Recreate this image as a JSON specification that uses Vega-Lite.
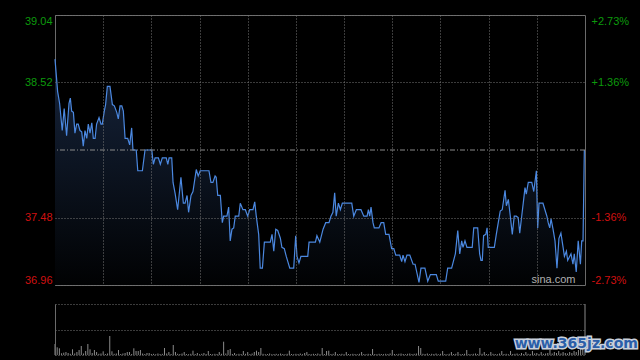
{
"$schema":"https://vega.github.io/schema/vega-lite/v6.json",
"background":"#000000",
"padding":{"left":0,"top":14,"right":6,"bottom":5},
"config":{"font":"Liberation Sans","view":{"stroke":"#6a6a6a"}},
"datasets":{
"price":[{"t":0,"p":38.70},{"t":1.2,"p":38.45},{"t":2.1,"p":38.36},{"t":3.3,"p":38.15},{"t":4.2,"p":38.32},{"t":5.3,"p":38.11},{"t":6.4,"p":38.36},{"t":7.0,"p":38.40},{"t":7.6,"p":38.30},{"t":8.4,"p":38.29},{"t":9.1,"p":38.13},{"t":9.9,"p":38.20},{"t":10.6,"p":38.20},{"t":11.4,"p":38.15},{"t":12.2,"p":38.14},{"t":12.9,"p":38.03},{"t":13.7,"p":38.15},{"t":14.5,"p":38.09},{"t":15.2,"p":38.20},{"t":16.0,"p":38.13},{"t":16.8,"p":38.21},{"t":17.5,"p":38.09},{"t":18.3,"p":38.09},{"t":19.0,"p":38.20},{"t":20.1,"p":38.25},{"t":21.0,"p":38.20},{"t":21.6,"p":38.20},{"t":22.5,"p":38.30},{"t":23.1,"p":38.35},{"t":23.9,"p":38.49},{"t":25.1,"p":38.49},{"t":26.2,"p":38.35},{"t":27.1,"p":38.34},{"t":28.2,"p":38.29},{"t":28.9,"p":38.24},{"t":29.7,"p":38.34},{"t":30.5,"p":38.34},{"t":31.2,"p":38.30},{"t":32.0,"p":38.09},{"t":33.2,"p":38.09},{"t":34.1,"p":38.04},{"t":35.0,"p":38.17},{"t":35.6,"p":38.00},{"t":37.1,"p":38.00},{"t":37.8,"p":37.84},{"t":39.9,"p":37.84},{"t":41.1,"p":38.00},{"t":44.2,"p":38.00},{"t":44.9,"p":37.89},{"t":45.7,"p":37.94},{"t":47.2,"p":37.94},{"t":48.1,"p":37.89},{"t":49.0,"p":37.94},{"t":50.8,"p":37.94},{"t":51.5,"p":37.89},{"t":52.1,"p":37.94},{"t":53.3,"p":37.94},{"t":53.9,"p":37.75},{"t":54.8,"p":37.67},{"t":56.0,"p":37.54},{"t":57.5,"p":37.79},{"t":58.6,"p":37.59},{"t":59.4,"p":37.59},{"t":60.3,"p":37.65},{"t":61.0,"p":37.52},{"t":62.1,"p":37.65},{"t":63.0,"p":37.68},{"t":64.5,"p":37.85},{"t":65.4,"p":37.80},{"t":66.3,"p":37.84},{"t":70.3,"p":37.84},{"t":71.2,"p":37.75},{"t":72.1,"p":37.75},{"t":73.1,"p":37.80},{"t":73.6,"p":37.79},{"t":74.3,"p":37.65},{"t":75.5,"p":37.65},{"t":76.4,"p":37.44},{"t":77.0,"p":37.49},{"t":78.5,"p":37.49},{"t":79.3,"p":37.56},{"t":80.0,"p":37.30},{"t":80.8,"p":37.39},{"t":81.6,"p":37.40},{"t":82.3,"p":37.49},{"t":83.9,"p":37.49},{"t":84.6,"p":37.59},{"t":85.8,"p":37.54},{"t":86.9,"p":37.54},{"t":88.0,"p":37.49},{"t":88.9,"p":37.54},{"t":90.4,"p":37.54},{"t":91.2,"p":37.60},{"t":91.9,"p":37.49},{"t":93.0,"p":37.35},{"t":93.7,"p":37.09},{"t":94.7,"p":37.09},{"t":95.6,"p":37.29},{"t":98.3,"p":37.29},{"t":99.1,"p":37.35},{"t":99.9,"p":37.22},{"t":100.8,"p":37.39},{"t":101.7,"p":37.38},{"t":102.9,"p":37.32},{"t":103.6,"p":37.25},{"t":104.7,"p":37.24},{"t":105.6,"p":37.18},{"t":107.2,"p":37.09},{"t":109.0,"p":37.09},{"t":109.9,"p":37.34},{"t":110.5,"p":37.18},{"t":111.4,"p":37.13},{"t":112.3,"p":37.18},{"t":115.4,"p":37.18},{"t":116.0,"p":37.29},{"t":118.9,"p":37.29},{"t":119.6,"p":37.34},{"t":120.9,"p":37.29},{"t":122.4,"p":37.39},{"t":123.6,"p":37.44},{"t":125.1,"p":37.44},{"t":126.0,"p":37.49},{"t":126.9,"p":37.52},{"t":127.7,"p":37.67},{"t":128.4,"p":37.49},{"t":129.4,"p":37.59},{"t":130.3,"p":37.54},{"t":131.2,"p":37.59},{"t":135.5,"p":37.59},{"t":136.4,"p":37.49},{"t":137.6,"p":37.54},{"t":139.7,"p":37.54},{"t":141.0,"p":37.49},{"t":142.5,"p":37.49},{"t":143.1,"p":37.54},{"t":143.7,"p":37.49},{"t":144.3,"p":37.56},{"t":145.2,"p":37.44},{"t":145.8,"p":37.40},{"t":147.9,"p":37.40},{"t":148.9,"p":37.44},{"t":150.1,"p":37.44},{"t":151.0,"p":37.35},{"t":152.5,"p":37.35},{"t":153.7,"p":37.24},{"t":154.7,"p":37.24},{"t":155.6,"p":37.19},{"t":157.4,"p":37.19},{"t":158.3,"p":37.14},{"t":158.9,"p":37.19},{"t":159.8,"p":37.14},{"t":160.7,"p":37.19},{"t":162.0,"p":37.19},{"t":163.5,"p":37.12},{"t":164.4,"p":37.12},{"t":166.2,"p":36.98},{"t":167.1,"p":37.09},{"t":168.9,"p":37.09},{"t":170.2,"p":36.99},{"t":171.4,"p":37.04},{"t":174.1,"p":37.04},{"t":175.0,"p":36.99},{"t":178.4,"p":36.99},{"t":179.3,"p":37.09},{"t":181.1,"p":37.09},{"t":182.8,"p":37.20},{"t":183.9,"p":37.38},{"t":184.8,"p":37.20},{"t":185.7,"p":37.30},{"t":186.3,"p":37.25},{"t":187.2,"p":37.30},{"t":188.1,"p":37.25},{"t":190.5,"p":37.25},{"t":191.2,"p":37.40},{"t":193.0,"p":37.40},{"t":193.9,"p":37.20},{"t":194.5,"p":37.15},{"t":195.1,"p":37.15},{"t":195.7,"p":37.34},{"t":196.7,"p":37.35},{"t":197.3,"p":37.40},{"t":197.8,"p":37.25},{"t":200.6,"p":37.25},{"t":201.5,"p":37.35},{"t":202.4,"p":37.44},{"t":203.3,"p":37.53},{"t":204.2,"p":37.54},{"t":205.5,"p":37.69},{"t":206.1,"p":37.57},{"t":207.0,"p":37.62},{"t":207.9,"p":37.49},{"t":208.8,"p":37.35},{"t":209.7,"p":37.49},{"t":210.6,"p":37.49},{"t":211.5,"p":37.48},{"t":212.2,"p":37.36},{"t":213.1,"p":37.49},{"t":214.0,"p":37.62},{"t":214.6,"p":37.71},{"t":215.2,"p":37.66},{"t":216.1,"p":37.75},{"t":217.7,"p":37.75},{"t":218.6,"p":37.68},{"t":219.8,"p":37.84},{"t":220.4,"p":37.40},{"t":221.0,"p":37.59},{"t":222.8,"p":37.59},{"t":223.7,"p":37.54},{"t":224.6,"p":37.49},{"t":225.2,"p":37.44},{"t":225.9,"p":37.40},{"t":226.5,"p":37.47},{"t":227.4,"p":37.39},{"t":228.3,"p":37.30},{"t":229.2,"p":37.09},{"t":230.1,"p":37.32},{"t":231.0,"p":37.36},{"t":232.0,"p":37.25},{"t":232.6,"p":37.18},{"t":233.5,"p":37.22},{"t":234.1,"p":37.15},{"t":234.7,"p":37.17},{"t":235.6,"p":37.20},{"t":236.5,"p":37.12},{"t":237.1,"p":37.20},{"t":238.0,"p":37.06},{"t":238.9,"p":37.30},{"t":239.9,"p":37.12},{"t":240.5,"p":37.30},{"t":241.1,"p":37.30},{"t":241.7,"p":38.00}],
"vol":[{"t":0,"v":1100},{"t":1,"v":770},{"t":2,"v":670},{"t":3,"v":170},{"t":4,"v":230},{"t":5,"v":300},{"t":6,"v":200},{"t":7,"v":120},{"t":8,"v":570},{"t":9,"v":150},{"t":10,"v":300},{"t":11,"v":500},{"t":12,"v":900},{"t":13,"v":150},{"t":14,"v":400},{"t":15,"v":1100},{"t":16,"v":570},{"t":17,"v":200},{"t":18,"v":500},{"t":19,"v":300},{"t":20,"v":120},{"t":21,"v":150},{"t":22,"v":370},{"t":23,"v":100},{"t":24,"v":150},{"t":25,"v":1900},{"t":26,"v":370},{"t":27,"v":120},{"t":28,"v":150},{"t":29,"v":500},{"t":30,"v":100},{"t":31,"v":150},{"t":32,"v":200},{"t":33,"v":300},{"t":34,"v":300},{"t":35,"v":100},{"t":36,"v":670},{"t":37,"v":400},{"t":38,"v":400},{"t":39,"v":500},{"t":40,"v":150},{"t":41,"v":100},{"t":42,"v":200},{"t":43,"v":200},{"t":44,"v":100},{"t":45,"v":120},{"t":46,"v":80},{"t":47,"v":150},{"t":48,"v":100},{"t":49,"v":120},{"t":50,"v":700},{"t":51,"v":150},{"t":52,"v":300},{"t":53,"v":100},{"t":54,"v":1000},{"t":55,"v":300},{"t":56,"v":120},{"t":57,"v":100},{"t":58,"v":150},{"t":59,"v":300},{"t":60,"v":100},{"t":61,"v":80},{"t":62,"v":120},{"t":63,"v":430},{"t":64,"v":100},{"t":65,"v":200},{"t":66,"v":80},{"t":67,"v":120},{"t":68,"v":200},{"t":69,"v":100},{"t":70,"v":400},{"t":71,"v":100},{"t":72,"v":80},{"t":73,"v":120},{"t":74,"v":100},{"t":75,"v":300},{"t":76,"v":120},{"t":77,"v":1330},{"t":78,"v":150},{"t":79,"v":500},{"t":80,"v":600},{"t":81,"v":100},{"t":82,"v":200},{"t":83,"v":80},{"t":84,"v":120},{"t":85,"v":100},{"t":86,"v":400},{"t":87,"v":120},{"t":88,"v":300},{"t":89,"v":100},{"t":90,"v":150},{"t":91,"v":300},{"t":92,"v":430},{"t":93,"v":300},{"t":94,"v":700},{"t":95,"v":120},{"t":96,"v":80},{"t":97,"v":100},{"t":98,"v":150},{"t":99,"v":80},{"t":100,"v":100},{"t":101,"v":120},{"t":102,"v":80},{"t":103,"v":150},{"t":104,"v":100},{"t":105,"v":80},{"t":106,"v":120},{"t":107,"v":430},{"t":108,"v":100},{"t":109,"v":80},{"t":110,"v":120},{"t":111,"v":100},{"t":112,"v":150},{"t":113,"v":80},{"t":114,"v":200},{"t":115,"v":300},{"t":116,"v":100},{"t":117,"v":80},{"t":118,"v":120},{"t":119,"v":100},{"t":120,"v":150},{"t":121,"v":80},{"t":122,"v":700},{"t":123,"v":100},{"t":124,"v":400},{"t":125,"v":430},{"t":126,"v":100},{"t":127,"v":120},{"t":128,"v":300},{"t":129,"v":80},{"t":130,"v":100},{"t":131,"v":120},{"t":132,"v":80},{"t":133,"v":300},{"t":134,"v":100},{"t":135,"v":80},{"t":136,"v":120},{"t":137,"v":100},{"t":138,"v":80},{"t":139,"v":120},{"t":140,"v":300},{"t":141,"v":100},{"t":142,"v":80},{"t":143,"v":120},{"t":144,"v":100},{"t":145,"v":600},{"t":146,"v":100},{"t":147,"v":80},{"t":148,"v":120},{"t":149,"v":100},{"t":150,"v":80},{"t":151,"v":120},{"t":152,"v":100},{"t":153,"v":150},{"t":154,"v":500},{"t":155,"v":100},{"t":156,"v":80},{"t":157,"v":120},{"t":158,"v":150},{"t":159,"v":100},{"t":160,"v":80},{"t":161,"v":120},{"t":162,"v":150},{"t":163,"v":100},{"t":164,"v":120},{"t":165,"v":150},{"t":166,"v":900},{"t":167,"v":700},{"t":168,"v":120},{"t":169,"v":100},{"t":170,"v":150},{"t":171,"v":80},{"t":172,"v":120},{"t":173,"v":100},{"t":174,"v":150},{"t":175,"v":80},{"t":176,"v":120},{"t":177,"v":400},{"t":178,"v":100},{"t":179,"v":80},{"t":180,"v":120},{"t":181,"v":300},{"t":182,"v":100},{"t":183,"v":120},{"t":184,"v":300},{"t":185,"v":80},{"t":186,"v":100},{"t":187,"v":120},{"t":188,"v":500},{"t":189,"v":100},{"t":190,"v":80},{"t":191,"v":120},{"t":192,"v":150},{"t":193,"v":100},{"t":194,"v":700},{"t":195,"v":120},{"t":196,"v":300},{"t":197,"v":100},{"t":198,"v":80},{"t":199,"v":300},{"t":200,"v":120},{"t":201,"v":100},{"t":202,"v":80},{"t":203,"v":150},{"t":204,"v":400},{"t":205,"v":100},{"t":206,"v":120},{"t":207,"v":80},{"t":208,"v":400},{"t":209,"v":100},{"t":210,"v":120},{"t":211,"v":150},{"t":212,"v":80},{"t":213,"v":200},{"t":214,"v":100},{"t":215,"v":300},{"t":216,"v":120},{"t":217,"v":100},{"t":218,"v":400},{"t":219,"v":150},{"t":220,"v":200},{"t":221,"v":100},{"t":222,"v":300},{"t":223,"v":120},{"t":224,"v":150},{"t":225,"v":200},{"t":226,"v":500},{"t":227,"v":150},{"t":228,"v":300},{"t":229,"v":200},{"t":230,"v":400},{"t":231,"v":150},{"t":232,"v":300},{"t":233,"v":200},{"t":234,"v":150},{"t":235,"v":300},{"t":236,"v":200},{"t":237,"v":400},{"t":238,"v":300},{"t":239,"v":500},{"t":240,"v":600},{"t":241,"v":900}]
},
"spacing":17,
"vconcat":[
{
"width":530,"height":270,
"data":{"name":"price"},
"layer":[
{"mark":{"type":"area","color":{"gradient":"linear","x1":0,"y1":0,"x2":0,"y2":1,"stops":[{"offset":0,"color":"#16243c"},{"offset":1,"color":"#010203"}]}},
"encoding":{
"x":{"field":"t","type":"quantitative","scale":{"domain":[0,242],"nice":false,"zero":false},"axis":{"values":[22,44,66,88,110,132,154,176,198,220],"grid":true,"gridColor":"#777777","gridDash":[1,2],"gridOpacity":1,"labels":false,"ticks":false,"domain":false,"title":null,"zindex":1,"minExtent":0,"maxExtent":0}},
"y":{"field":"p","type":"quantitative","scale":{"domain":[36.96,39.04],"nice":false,"zero":false},"axis":{"values":[36.96,37.48,38.52,39.04],"format":".2f","title":null,"grid":true,"gridColor":"#777777","gridDash":[1,2],"ticks":false,"domain":false,"zindex":1,"labelFlush":true,"labelPadding":3,"labelFontSize":11,"labelFont":"Liberation Sans","labelColor":{"condition":{"test":"datum.value > 38","value":"#0c9a0c"},"value":"#d01010"},"minExtent":54,"maxExtent":54}},
"y2":{"datum":36.96}}},
{"mark":{"type":"line","color":"#4b88e0","strokeWidth":1.2},
"encoding":{
"x":{"field":"t","type":"quantitative","scale":{"domain":[0,242],"nice":false,"zero":false},"axis":null},
"y":{"field":"p","type":"quantitative","scale":{"domain":[36.96,39.04],"nice":false,"zero":false},"axis":{"orient":"right","values":[36.96,37.48,38.52,39.04],"labelExpr":"(datum.value > 38 ? '+' : '-') + format(floor(abs(datum.value - 38) / 38 * 10000) / 100, '.2f') + '%'","title":null,"grid":false,"ticks":false,"domain":false,"labelFlush":true,"labelPadding":6,"labelFontSize":11,"labelFont":"Liberation Sans","labelColor":{"condition":{"test":"datum.value > 38","value":"#0c9a0c"},"value":"#d01010"},"minExtent":50,"maxExtent":50}}}},
{"data":{"values":[{"prevClose":38.0}]},
"mark":{"type":"rule","color":"#8a8a8a","strokeDash":[5,2,1,2],"strokeWidth":1},
"encoding":{"y":{"field":"prevClose","type":"quantitative","scale":{"domain":[36.96,39.04],"nice":false,"zero":false},"axis":null}}},
{"data":{"values":[{"label":"sina.com"}]},
"mark":{"type":"text","color":"#b0b0b0","fontSize":11,"font":"Liberation Sans","align":"center","baseline":"middle"},
"encoding":{"text":{"field":"label"},"x":{"datum":227.6,"type":"quantitative","axis":null},"y":{"datum":37.0,"type":"quantitative","axis":null}}}
],
"resolve":{"axis":{"x":"independent","y":"independent"}}
},
{
"width":530,"height":51,
"view":{"stroke":null},
"data":{"name":"vol"},
"layer":[
{"mark":{"type":"rule","color":"#8a8a8a","strokeWidth":1},
"encoding":{
"x":{"field":"t","type":"quantitative","scale":{"domain":[0,242],"nice":false,"zero":false},"axis":null},
"y":{"field":"v","type":"quantitative","scale":{"domain":[0,5100],"nice":false},"axis":{"values":[0,2550,5100],"grid":true,"gridColor":"#777777","gridDash":[1,2],"gridOpacity":1,"labels":false,"ticks":false,"domain":true,"domainColor":"#6a6a6a","title":null,"zindex":1,"minExtent":54,"maxExtent":54}},
"y2":{"datum":0}}},
{"data":{"values":[{"edge":"right"}]},
"mark":{"type":"rule","color":"#8a8a8a","strokeWidth":1},
"encoding":{"x":{"datum":242,"type":"quantitative","axis":null}}},
{"data":{"values":[{"wm":"www.365jz.com"}]},
"mark":{"type":"text","fontSize":14,"font":"DejaVu Sans","fontWeight":"bold","align":"center","baseline":"middle","fill":"#c8d0dc","stroke":"#c8d0dc","strokeWidth":3},
"encoding":{"text":{"field":"wm"},"x":{"datum":238,"type":"quantitative","axis":null},"y":{"datum":1100,"type":"quantitative","axis":null}}},
{"data":{"values":[{"wm":"www.365jz.com"}]},
"mark":{"type":"text","fontSize":14,"font":"DejaVu Sans","fontWeight":"bold","align":"center","baseline":"middle","fill":"#2b5ea8"},
"encoding":{"text":{"field":"wm"},"x":{"datum":238,"type":"quantitative","axis":null},"y":{"datum":1100,"type":"quantitative","axis":null}}}
],
"resolve":{"axis":{"x":"independent","y":"independent"}}
}
]
}
